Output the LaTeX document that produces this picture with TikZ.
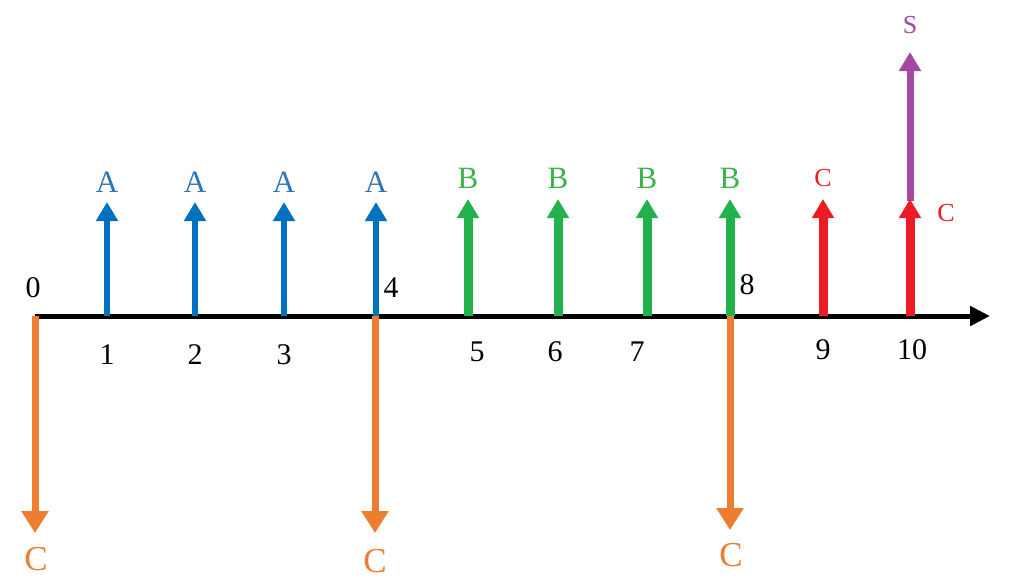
\documentclass[tikz,border=0pt]{standalone}
\usepackage{fontspec}
\setmainfont{Liberation Serif}
\usetikzlibrary{arrows.meta}
\definecolor{cblue}{HTML}{0070C0}
\definecolor{cgreen}{HTML}{22B14C}
\definecolor{cred}{HTML}{ED1C24}
\definecolor{corange}{HTML}{ED7D31}
\definecolor{cpurple}{HTML}{A349A4}
\definecolor{lblue}{HTML}{2E75B6}
\definecolor{lgreen}{HTML}{3CB44B}
\tikzset{
  flow/.style={line width=#1,-{Triangle[width=21pt,length=19pt]}},
  flow/.default=6pt,
  downflow/.style={line width=7pt,-{Triangle[width=26pt,length=22pt]}},
  axisline/.style={line width=5pt,-{Triangle[width=19pt,length=20pt]}},
  num/.style={inner sep=0pt,font=\fontsize{30}{34}\selectfont},
  big/.style={inner sep=0pt,font=\fontsize{31}{34}\selectfont},
  small/.style={inner sep=0pt,font=\fontsize{26}{30}\selectfont},
  bottom/.style={inner sep=0pt,font=\fontsize{35}{40}\selectfont,text=corange},
}
\begin{document}
\begin{tikzpicture}[x=1pt,y=-1pt]
\useasboundingbox[fill=white] (0,0) rectangle (1024,582);
% axis
\coordinate (t0) at (35,316);
\coordinate (t1) at (107,316);
\coordinate (t2) at (195,316);
\coordinate (t3) at (284,316);
\coordinate (t4) at (375,316);
\coordinate (t5) at (468,316);
\coordinate (t6) at (558,316);
\coordinate (t7) at (647,316);
\coordinate (t8) at (730,316);
\coordinate (t9) at (823,316);
\coordinate (t10) at (910,316);
\coordinate (axend) at (990,316);
\draw[axisline] (t0) -- (axend);
% upward
\foreach \i/\x in {1/107,2/195,3/284,4/376}{
  \coordinate (a\i) at (\x,202);
  \draw[flow=6pt,cblue] (\x,316) -- (a\i);
  \node[big,text=lblue] (A\i) at (\x,182) {A};
}
\foreach \i/\x in {5/468,6/558,7/647,8/730}{
  \coordinate (a\i) at (\x,199);
  \draw[flow=9pt,cgreen] (\x,316) -- (a\i);
  \node[big,text=lgreen] (B\i) at (\x,178) {B};
}
\coordinate (a9) at (823,199);
\coordinate (a10) at (910,199);
\coordinate (s10) at (910,52);
\draw[flow=9pt,cred] (t9) -- (a9);
\draw[line width=7pt,cpurple] (910,201) -- (910,100);
\draw[flow=7pt,cpurple] (910,110) -- (s10);
\draw[flow=9pt,cred] (t10) -- (a10);
\node[small,text=cred] (C9) at (823,178) {C};
\node[small,text=cred] (C10) at (946,213) {C};
\node[small,text=cpurple] (S) at (910,25) {S};
% downward
\coordinate (d0) at (35,533);
\coordinate (d4) at (375,533);
\coordinate (d8) at (730,530);
\draw[downflow,corange] (t0) -- (d0);
\draw[downflow,corange] (t4) -- (d4);
\draw[downflow,corange] (t8) -- (d8);
\node[bottom] (Cd0) at (36,559) {C};
\node[bottom] (Cd4) at (375,561) {C};
\node[bottom] (Cd8) at (731,555) {C};
% numbers
\node[num] (n0) at (33,288) {0};
\node[num] (n1) at (107,355) {1};
\node[num] (n2) at (195,355) {2};
\node[num] (n3) at (284,355) {3};
\node[num] (n4) at (391,288) {4};
\node[num] (n5) at (477,352) {5};
\node[num] (n6) at (555,352) {6};
\node[num] (n7) at (637,352) {7};
\node[num] (n8) at (747,285) {8};
\node[num] (n9) at (823,350) {9};
\node[num] (n10) at (912,350) {10};
\end{tikzpicture}
\end{document}
